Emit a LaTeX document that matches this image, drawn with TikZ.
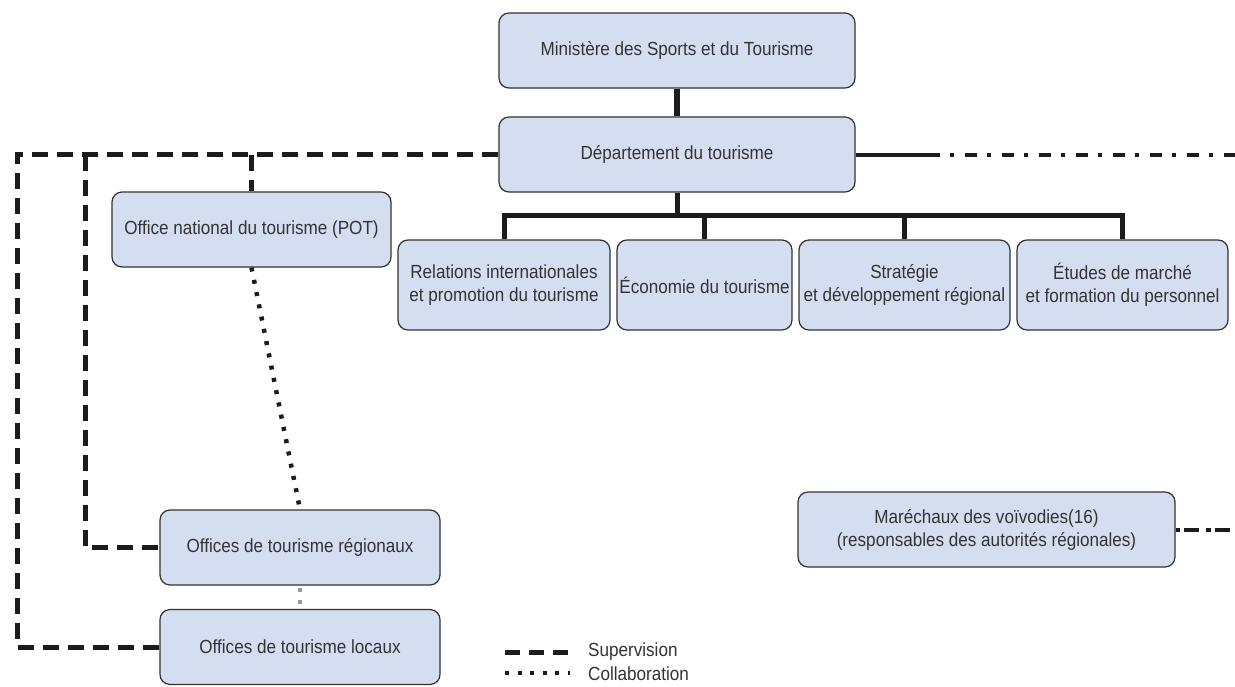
\documentclass[tikz,border=0pt]{standalone}
\usepackage{fontspec}
\setmainfont{Liberation Sans}[FakeStretch=0.9]
\definecolor{boxfill}{RGB}{213,222,240}
\definecolor{txt}{RGB}{51,51,51}
\definecolor{lines}{RGB}{28,28,28}
\begin{document}
\begin{tikzpicture}[x=1pt,y=-1pt,
 box/.style={draw=txt, line width=1.2pt, fill=boxfill, rounded corners=10pt, minimum height=75pt, inner sep=0pt, align=center, text=txt, font=\fontsize{19}{23}\selectfont},
 lbl/.style={inner sep=0pt, anchor=west, text=txt, font=\fontsize{19}{23}\selectfont},
 solidline/.style={line width=5pt, draw=lines},
 superv/.style={line width=5pt, draw=lines, dash pattern=on 16pt off 9pt},
 collab/.style={line width=4.5pt, draw=lines, dash pattern=on 4pt off 8.5pt},
 dashdot/.style={line width=4pt, draw=lines, dash pattern=on 4pt off 11pt on 12pt off 10pt, dash phase=27pt},
 dashdotb/.style={line width=4pt, draw=lines, dash pattern=on 15pt off 7pt on 5pt off 4pt, dash phase=23pt}]
\useasboundingbox (0,0) rectangle (1235,686);
\fill[white] (0,0) rectangle (1235,686);

\node[box, minimum width=356pt] (min) at (677,50.5) {Ministère des Sports et du Tourisme};
\node[box, minimum width=356pt] (dep) at (677,154.5) {Département du tourisme};
\node[box, minimum width=279pt] (pot) at (251.5,229.5) {Office national du tourisme (POT)};
\node[box, minimum width=212pt, minimum height=90pt] (rel) at (504,285) {Relations internationales\\et promotion du tourisme};
\node[box, minimum width=175pt, minimum height=90pt] (eco) at (704.5,285) {Économie du tourisme};
\node[box, minimum width=211pt, minimum height=90pt] (str) at (904.5,285) {Stratégie\\et développement régional};
\node[box, minimum width=211pt, minimum height=90pt] (etu) at (1122.5,285) {Études de marché\\et formation du personnel};
\node[box, minimum width=280pt] (reg) at (300,547.5) {Offices de tourisme régionaux};
\node[box, minimum width=280pt] (loc) at (300,647) {Offices de tourisme locaux};
\node[box, minimum width=377pt] (mar) at (986.5,529.5) {Maréchaux des voïvodies(16)\\(responsables des autorités régionales)};

% hierarchy
\coordinate (bar) at (0,215);
\draw[solidline, line width=5.5pt] (min.south) -- (dep.north);
\draw[solidline] (dep.south) -- (dep.south |- bar);
\draw[solidline] (rel.north) -- (rel.north |- bar) -- (etu.north |- bar) -- (etu.north);
\draw[solidline] (eco.north) -- (eco.north |- bar);
\draw[solidline] (str.north) -- (str.north |- bar);

% supervision
\coordinate (L1) at (17,0);
\coordinate (L2) at (85,0);
\draw[superv] (dep.west) -- (dep.west -| L1) -- (loc.west -| L1) -- (loc.west);
\draw[superv] (dep.west -| L2) -- (reg.west -| L2) -- (reg.west);
\draw[superv] (dep.west -| pot.north) -- (pot.north);

% collaboration
\draw[collab] (pot.south) -- (reg.north);
\draw[collab, draw=gray!80, line width=4pt, dash pattern=on 4pt off 8pt, dash phase=-2pt] (reg.south) -- (loc.north);

% right side
\coordinate (sd) at (940,0);
\coordinate (rend) at (1235,0);
\draw[solidline, line width=4pt] (dep.east) -- (dep.east -| sd);
\draw[dashdot] (dep.east -| sd) -- (dep.east -| rend);
\draw[dashdotb] (mar.east) -- (mar.east -| rend);

% legend
\coordinate (la) at (505,652);
\coordinate (lb) at (570,652);
\coordinate (lc) at (505,673);
\coordinate (ld) at (570,673);
\draw[superv, dash pattern=on 15pt off 9pt] (la) -- (lb);
\draw[collab, line width=4pt, dash pattern=on 4pt off 8.5pt] (lc) -- (ld);
\node[lbl] (lt1) at (588,652) {Supervision};
\node[lbl] (lt2) at (588,674) {Collaboration};
\end{tikzpicture}
\end{document}
